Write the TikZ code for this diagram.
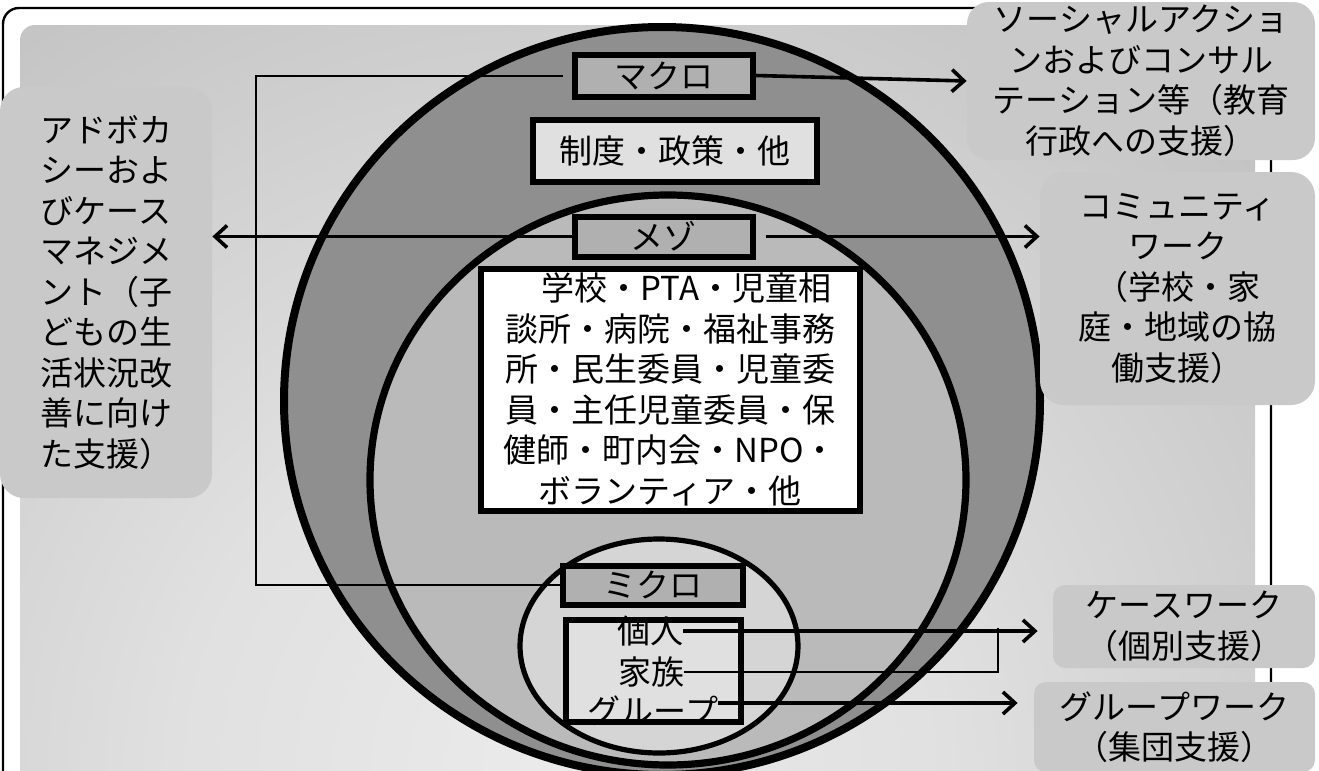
\documentclass[tikz,border=0pt]{standalone}
\usepackage{fontspec}
\setmainfont{Noto Sans CJK JP}
\usetikzlibrary{arrows.meta}
\definecolor{ringc}{gray}{0.56}
\definecolor{mesoc}{gray}{0.73}
\definecolor{microc}{gray}{0.835}
\definecolor{labelc}{gray}{0.69}
\definecolor{lightc}{gray}{0.88}
\definecolor{sidec}{gray}{0.79}
\newcommand\myfs{\fontsize{16.5pt}{20.25pt}\selectfont}
\pgfdeclareradialshading{panelsh}{\pgfpoint{0bp}{0bp}}{color(0bp)=(black!8); color(10bp)=(black!12); color(28bp)=(black!26); color(42bp)=(black!33); color(50bp)=(black!35)}
\begin{document}
\begin{tikzpicture}[x=0.5pt,y=-0.5pt,
  lbl/.style={draw=black, line width=3pt, fill=labelc, inner sep=0pt, font=\myfs},
  side/.style={fill=sidec, rounded corners=12pt, inner sep=0pt, align=center, font=\myfs},
  txt/.style={inner sep=0pt, font=\myfs},
  arr/.style={line width=1.8pt, -{Straight Barb[length=6pt,width=11pt]}},
  thinln/.style={line width=1.2pt},
  bracket/.style={line width=1pt},
  ring/.style={line width=4pt}]
\useasboundingbox (0,0) rectangle (1319,771);
% frame and panel
\draw[line width=1.2pt, fill=white, rounded corners=8pt] (3,8) rectangle (1271,820);
\begin{scope}
  \clip[rounded corners=7.5pt] (20,25) rectangle (1255,820);
  \shade[shading=panelsh] (560,771) circle (475pt);
\end{scope}
% circles
\draw[ring, fill=ringc] (662,401) ellipse [x radius=189pt, y radius=187pt];
\draw[line width=3.6pt, fill=mesoc] (668,480) ellipse [x radius=149pt, y radius=142.5pt];
\draw[line width=2.6pt, fill=microc] (659,646) ellipse [x radius=69.5pt, y radius=53.5pt];
% label boxes
\node[lbl, minimum width=89pt, minimum height=21pt] (macro) at (663.5,75.5) {マクロ};
\node[lbl, fill=lightc, minimum width=142pt, minimum height=31pt] (seido) at (674.5,150.5) {制度・政策・他};
\node[lbl, minimum width=89pt, minimum height=20pt] (meso) at (663.5,236.5) {メゾ};
\node[lbl, fill=white, minimum width=189.5pt, minimum height=121pt, align=center] (kikan) at (670,389.5)
  {\hspace*{1em}学校・PTA・児童相\\談所・病院・福祉事務\\所・民生委員・児童委\\員・主任児童委員・保\\健師・町内会・NPO・\\ボランティア・他};
\node[lbl, minimum width=90pt, minimum height=19.5pt] (micro) at (652.5,585) {ミクロ};
\node[lbl, fill=lightc, minimum width=87.5pt, minimum height=51pt] (kobox) at (653,670.5) {};
\node[txt] (ko) at (650,631) {個人};
\node[txt] (ka) at (651,672) {家族};
\node[txt] (gr) at (653,711) {グループ};
% side boxes
\node[side, minimum width=106pt, minimum height=205.5pt] (adv) at (106,292.5)
  {アドボカ\\シーおよ\\びケース\\マネジメ\\ント（子\\どもの生\\活状況改\\善に向け\\た支援）};
\node[side, rounded corners=11pt, minimum width=174pt, minimum height=79pt] (soc) at (1141,81)
  {ソーシャルアクショ\\ンおよびコンサル\\テーション等（教育\\行政への支援）};
\node[side, minimum width=137.5pt, minimum height=116.5pt] (com) at (1177.5,288.5)
  {コミュニティ\\ワーク\\（学校・家\\庭・地域の協\\働支援）};
\node[side, rounded corners=6pt, minimum width=131pt, minimum height=41.5pt] (case) at (1184,626.5)
  {ケースワーク\\（個別支援）};
\node[side, rounded corners=6pt, minimum width=140.5pt, minimum height=45pt] (grw) at (1174.5,727)
  {グループワーク\\（集団支援）};
% connectors
\coordinate (bk) at (256,0);
\draw[bracket, shorten <=4.5pt] (macro.west) -- (macro.west -| bk) |- (micro.west);
\draw[arr] (macro.east) -- (soc.west);
\draw[arr] (meso.west) -- (meso.west -| adv.east);
\draw[arr, shorten <=5pt] (meso.east) -- (meso.east -| com.west);
\draw[arr, shorten >=7.5pt] (ko.east) -- (ko.east -| case.west);
\coordinate (j) at (998,628);
\draw[thinln] (ka.east) -| (j);
\coordinate (g0) at ([yshift=4pt]gr.east);
\draw[arr, shorten >=8pt] (g0) -- (g0 -| grw.west);
\end{tikzpicture}
\end{document}
